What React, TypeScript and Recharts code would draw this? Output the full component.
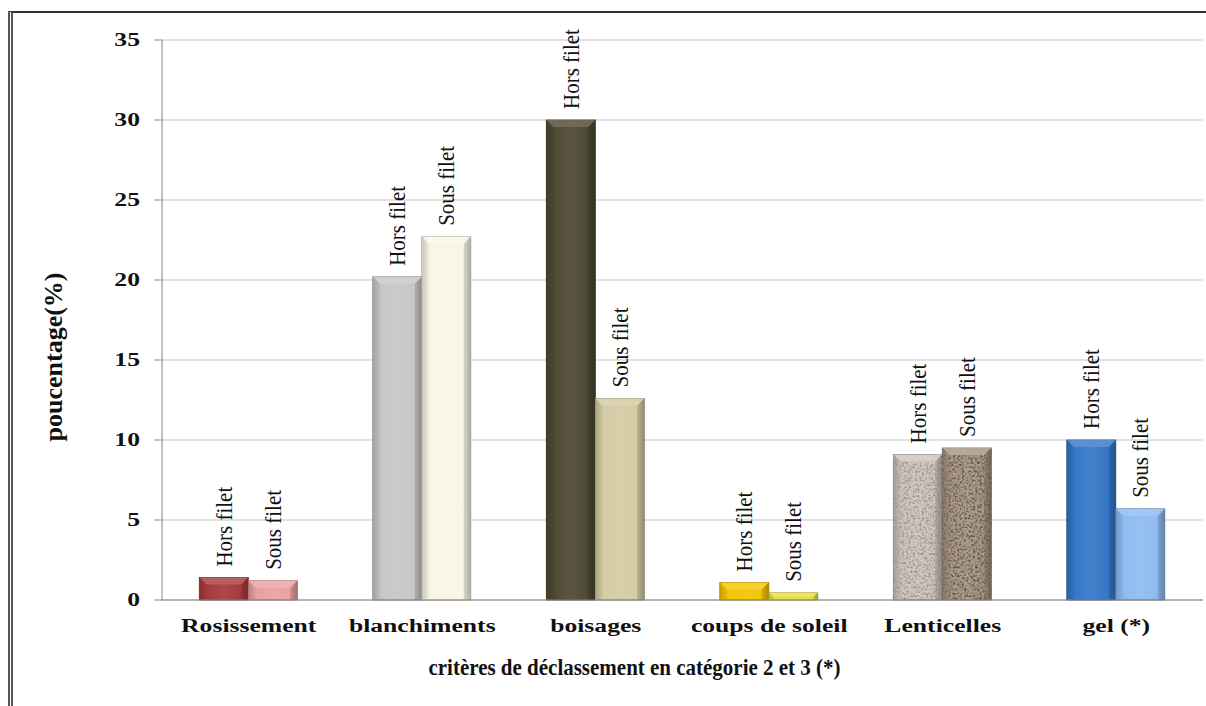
import React from 'react';
import { BarChart, Bar, XAxis, YAxis, CartesianGrid, LabelList } from 'recharts';

const categories = ['Rosissement', 'blanchiments', 'boisages', 'coups de soleil', 'Lenticelles', 'gel (*)'];
const horsFilet = [1.4, 20.2, 30, 1.1, 9.1, 10];
const sousFilet = [1.2, 22.7, 12.6, 0.45, 9.5, 5.7];
const seriesNames = ['Hors filet', 'Sous filet'];
const yTicks = [0, 5, 10, 15, 20, 25, 30, 35];
const edgeTicks = [0, 1, 2, 3, 4, 5, 6];
const horsColors = ['#a8383a', '#c6c6c6', '#4d4832', '#f2c400', '#cdc5bd', '#3476c6'];
const sousColors = ['#e9a0a2', '#f8f5e6', '#d3cba2', '#e8e040', '#a89682', '#8dbaf0'];
const texturedCategories = ['Lenticelles'];
const yTitle = 'poucentage(%)';
const xTitle = 'critères de déclassement en catégorie 2 et 3 (*)';

const data = categories.map((name, i) => ({ name, hors: horsFilet[i], sous: sousFilet[i] }));

const SERIF = "'Liberation Serif', 'Times New Roman', serif";
const STRETCH = 1.35;

function shade(hex: string, amt: number): string {
  const n = parseInt(hex.slice(1), 16);
  let r = (n >> 16) & 255, g = (n >> 8) & 255, b = n & 255;
  const f = (c: number) => {
    const v = amt < 0 ? c * (1 + amt) : c + (255 - c) * amt;
    return Math.max(0, Math.min(255, Math.round(v)));
  };
  r = f(r); g = f(g); b = f(b);
  return '#' + ((1 << 24) + (r << 16) + (g << 8) + b).toString(16).slice(1);
}

const makeBar = (colors: string[], key: string) => (props: any) => {
  const { x, y, width, height, index } = props;
  const X = Number(x), Y = Number(y), W = Number(width), H = Number(height);
  if (!(H > 0)) return <g />;
  const base = colors[index];
  const id = `g-${key}-${index}`;
  const fid = `f-${key}-${index}`;
  const textured = texturedCategories.includes(categories[index]);
  const b = Math.min(7, H / 2, W / 4);
  return (
    <g>
      <defs>
        <linearGradient id={id} x1="0" y1="0" x2="1" y2="0">
          <stop offset="0" stopColor={shade(base, -0.25)} />
          <stop offset="0.12" stopColor={base} />
          <stop offset="0.5" stopColor={shade(base, 0.08)} />
          <stop offset="0.88" stopColor={base} />
          <stop offset="1" stopColor={shade(base, -0.3)} />
        </linearGradient>
        {textured && (
          <filter id={fid} x="0" y="0" width="1" height="1">
            <feTurbulence type="fractalNoise" baseFrequency="0.45" numOctaves="2" seed={index + (key === 'h' ? 1 : 7)} result="n" />
            <feColorMatrix in="n" type="matrix" values="0 0 0 0 0  0 0 0 0 0  0 0 0 0 0  2.2 0 0 0 -0.95" result="a" />
            <feComposite in="a" in2="SourceGraphic" operator="in" />
          </filter>
        )}
      </defs>
      <rect x={X} y={Y} width={W} height={H} fill={`url(#${id})`} stroke={shade(base, -0.35)} strokeWidth={0.8} />
      {textured && (
        <rect x={X} y={Y} width={W} height={H} fill="#3a2e24" filter={`url(#${fid})`} opacity={key === 'h' ? 0.35 : 0.6} />
      )}
      <polygon points={`${X},${Y} ${X + W},${Y} ${X + W - b},${Y + b} ${X + b},${Y + b}`} fill={shade(base, 0.2)} opacity={0.9} />
      <polygon points={`${X},${Y} ${X + b},${Y + b} ${X + b},${Y + H} ${X},${Y + H}`} fill={shade(base, -0.12)} opacity={0.5} />
      <polygon points={`${X + W},${Y} ${X + W - b},${Y + b} ${X + W - b},${Y + H} ${X + W},${Y + H}`} fill={shade(base, -0.3)} opacity={0.5} />
    </g>
  );
};

const makeLabel = (text: string) => (props: any) => {
  const { x, y, width } = props;
  const cx = Number(x) + Number(width) / 2;
  const ty = Number(y) - 11;
  return (
    <text
      transform={`translate(${cx},${ty}) rotate(-90) scale(1,1.1)`}
      fontFamily={SERIF}
      fontSize={21}
      fill="#111"
      textAnchor="start"
      dominantBaseline="central"
    >
      {text}
    </text>
  );
};

const YTick = (props: any) => {
  const { x, y, payload } = props;
  return (
    <text
      transform={`translate(${x},${y}) scale(${STRETCH},1)`}
      fontFamily={SERIF}
      fontWeight="bold"
      fontSize={19}
      fill="#111"
      textAnchor="end"
      dominantBaseline="central"
    >
      {payload.value}
    </text>
  );
};

const XTick = (props: any) => {
  const { x, y, payload } = props;
  return (
    <text
      transform={`translate(${x},${Number(y) + 32}) scale(${STRETCH},1)`}
      fontFamily={SERIF}
      fontWeight="bold"
      fontSize={19}
      fill="#111"
      textAnchor="middle"
    >
      {payload.value}
    </text>
  );
};

const YTitle = (props: any) => {
  const vb = props.viewBox || { x: 0, y: 0, width: 0, height: 0 };
  const cx = vb.x + 1;
  const cy = vb.y + vb.height / 2 + 37;
  return (
    <text
      transform={`translate(${cx},${cy}) rotate(-90)`}
      fontFamily={SERIF}
      fontWeight="bold"
      fontSize={26}
      fill="#111"
      textAnchor="middle"
      dominantBaseline="central"
    >
      {yTitle}
    </text>
  );
};

const XTitle = (props: any) => {
  const vb = props.viewBox || { x: 0, y: 0, width: 0, height: 0 };
  const cx = vb.x + vb.width / 2 - 48;
  const cy = vb.y + 75;
  return (
    <text
      transform={`translate(${cx},${cy}) scale(0.875,1)`}
      fontFamily={SERIF}
      fontWeight="bold"
      fontSize={24}
      fill="#111"
      textAnchor="middle"
    >
      {xTitle}
    </text>
  );
};

export default function App() {
  return (
    <div style={{ position: 'relative', width: 1206, height: 706, background: '#fff', overflow: 'hidden' }}>
      <style>{`body{margin:0;background:#fff}`}</style>
      <div
        style={{
          position: 'absolute',
          left: 8,
          top: 11,
          right: -4,
          bottom: -4,
          borderTop: '2px solid #333',
          borderLeft: '5px double #555',
        }}
      />
      <div style={{ position: 'absolute', left: 0, top: 0 }}>
        <BarChart
          width={1206}
          height={706}
          data={data}
          margin={{ top: 40, right: 3, bottom: 66, left: 52 }}
          barCategoryGap="21.5%"
          barGap={0}
        >
          <CartesianGrid vertical={false} stroke="#c4c4c4" strokeWidth={1.2} />
          <XAxis
            xAxisId="edge"
            type="number"
            domain={[0, 6]}
            ticks={edgeTicks}
            tick={false}
            axisLine={false}
            tickLine={{ stroke: '#888' }}
            tickSize={8}
            height={0}
          />
          <XAxis
            dataKey="name"
            height={40}
            tickLine={false}
            tickSize={0}
            tickMargin={0}
            axisLine={{ stroke: '#888' }}
            tick={<XTick />}
            interval={0}
            label={<XTitle />}
          />
          <YAxis
            domain={[0, 35]}
            ticks={yTicks}
            width={110}
            tickSize={8}
            tickMargin={14}
            axisLine={{ stroke: '#888' }}
            tickLine={{ stroke: '#888' }}
            tick={<YTick />}
            interval={0}
            label={<YTitle />}
          />
          <Bar dataKey="hors" isAnimationActive={false} shape={makeBar(horsColors, 'h')}>
            <LabelList dataKey="hors" content={makeLabel(seriesNames[0])} />
          </Bar>
          <Bar dataKey="sous" isAnimationActive={false} shape={makeBar(sousColors, 's')}>
            <LabelList dataKey="sous" content={makeLabel(seriesNames[1])} />
          </Bar>
        </BarChart>
      </div>
    </div>
  );
}
